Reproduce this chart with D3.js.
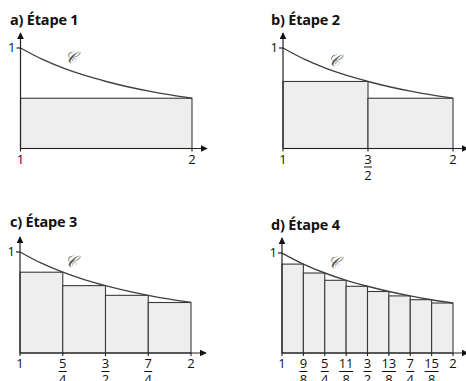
<!DOCTYPE html>
<html>
<head>
<meta charset="utf-8">
<script src="https://cdn.jsdelivr.net/npm/d3@7"></script>
<style>
  body { margin: 0; background: #fff; }
  svg { display: block; }
  .title { font-family: "Open Sans", sans-serif; font-weight: 700; font-size: 14.5px; fill: #111; letter-spacing: -0.2px; }
  .lbl { font-family: "Open Sans", sans-serif; font-size: 13px; fill: #111; }
</style>
</head>
<body>
<div id="chart"></div>
<script>
// panel titles and number of rectangles per step
const titles = ['a) Étape 1', 'b) Étape 2', 'c) Étape 3', 'd) Étape 4'];
const rectCounts = [1, 2, 4, 8];

// heights of the rectangles (value of the curve at the right end of each interval)
const heights = [
  [0.5],
  [0.667, 0.5],
  [0.8, 0.667, 0.571, 0.5],
  [0.889, 0.8, 0.727, 0.667, 0.615, 0.571, 0.533, 0.5]
];

// x tick labels per panel
const tickLabels = [
  ['1', '2'],
  ['1', '3/2', '2'],
  ['1', '5/4', '3/2', '7/4', '2'],
  ['1', '9/8', '5/4', '11/8', '3/2', '13/8', '7/4', '15/8', '2']
];

// sampled points of the curve
const curveX = [1, 1.125, 1.25, 1.375, 1.5, 1.625, 1.75, 1.875, 2];
const curveY = [1, 0.889, 0.8, 0.727, 0.667, 0.615, 0.571, 0.533, 0.5];

// pixel frames of each panel: where x=1, x=2, y=0, y=1 land
const frames = [
  { x0: 20.5, x1: 192, y0: 148.5, y1: 48, tx: 10, ty: 25, cx: 65, cy: 63 },
  { x0: 283, x1: 453, y0: 148.5, y1: 48, tx: 271, ty: 25, cx: 328, cy: 66 },
  { x0: 20, x1: 191, y0: 353, y1: 252, tx: 10, ty: 227, cx: 65, cy: 267 },
  { x0: 282, x1: 453, y0: 353, y1: 253, tx: 271, ty: 230, cx: 328, cy: 268 }
];

const W = 466, H = 381;
const svg = d3.select('#chart').append('svg')
  .attr('width', W).attr('height', H);

const defs = svg.append('defs');
defs.append('marker')
  .attr('id', 'arrow')
  .attr('viewBox', '0 0 10 10')
  .attr('refX', 9).attr('refY', 5)
  .attr('markerWidth', 7).attr('markerHeight', 7)
  .attr('markerUnits', 'userSpaceOnUse')
  .attr('orient', 'auto')
  .append('path')
  .attr('d', 'M0,0 L10,5 L0,10 Z')
  .attr('fill', '#111');

const stroke = '#3a3a3a';

frames.forEach((f, i) => {
  const x = d3.scaleLinear().domain([1, 2]).range([f.x0, f.x1]);
  const y = d3.scaleLinear().domain([0, 1]).range([f.y0, f.y1]);
  const g = svg.append('g');

  // rectangles
  const n = rectCounts[i];
  const w = 1 / n;
  const rects = heights[i].map((h, k) => ({ a: 1 + k * w, b: 1 + (k + 1) * w, h }));
  g.selectAll('rect').data(rects).join('rect')
    .attr('x', d => x(d.a))
    .attr('y', d => y(d.h))
    .attr('width', d => x(d.b) - x(d.a))
    .attr('height', d => y(0) - y(d.h))
    .attr('fill', '#eeeeee')
    .attr('stroke', stroke)
    .attr('stroke-width', 1.1);

  // curve
  const pts = curveX.map((cx, k) => [cx, curveY[k]]);
  g.append('path')
    .datum(pts)
    .attr('d', d3.line().x(d => x(d[0])).y(d => y(d[1])).curve(d3.curveMonotoneX))
    .attr('fill', 'none')
    .attr('stroke', '#404040')
    .attr('stroke-width', 1.4);

  // axes with arrows
  g.append('line')
    .attr('x1', x(1)).attr('y1', y(0))
    .attr('x2', x(2) + 15).attr('y2', y(0))
    .attr('stroke', '#222').attr('stroke-width', 1.2)
    .attr('marker-end', 'url(#arrow)');
  g.append('line')
    .attr('x1', x(1)).attr('y1', y(0))
    .attr('x2', x(1)).attr('y2', y(1) - 15)
    .attr('stroke', '#222').attr('stroke-width', 1.2)
    .attr('marker-end', 'url(#arrow)');

  // y tick at 1
  g.append('line')
    .attr('x1', x(1) - 4).attr('x2', x(1))
    .attr('y1', y(1)).attr('y2', y(1))
    .attr('stroke', '#222').attr('stroke-width', 1.2);
  g.append('text').attr('class', 'lbl')
    .attr('x', x(1) - 5).attr('y', y(1) + 4)
    .attr('text-anchor', 'end')
    .text('1');

  // x ticks and labels
  const ticks = tickLabels[i].map((t, k) => ({ v: 1 + k / (tickLabels[i].length - 1), t }));
  g.selectAll('line.tick').data(ticks).join('line')
    .attr('class', 'tick')
    .attr('x1', d => x(d.v)).attr('x2', d => x(d.v))
    .attr('y1', y(0)).attr('y2', y(0) + 3)
    .attr('stroke', '#222').attr('stroke-width', 1.1);

  ticks.forEach(d => {
    const px = x(d.v);
    const base = y(0) + 15;
    if (d.t.includes('/')) {
      const [num, den] = d.t.split('/');
      g.append('text').attr('class', 'lbl')
        .attr('x', px).attr('y', base).attr('text-anchor', 'middle').text(num);
      const bw = num.length > 1 ? 14 : 8;
      g.append('line')
        .attr('x1', px - bw / 2).attr('x2', px + bw / 2)
        .attr('y1', base + 3.5).attr('y2', base + 3.5)
        .attr('stroke', '#111').attr('stroke-width', 1);
      g.append('text').attr('class', 'lbl')
        .attr('x', px).attr('y', base + 16).attr('text-anchor', 'middle').text(den);
    } else {
      g.append('text').attr('class', 'lbl')
        .attr('x', px).attr('y', base).attr('text-anchor', 'middle').text(d.t);
    }
  });

  // curve name
  g.append('text')
    .attr('x', f.cx).attr('y', f.cy)
    .attr('font-family', '"DejaVu Serif", serif')
    .attr('font-style', 'italic')
    .attr('font-size', 16)
    .attr('fill', '#555')
    .text('𝒞');

  // title
  svg.append('text').attr('class', 'title')
    .attr('x', f.tx).attr('y', f.ty)
    .text(titles[i]);
});
</script>
</body>
</html>
